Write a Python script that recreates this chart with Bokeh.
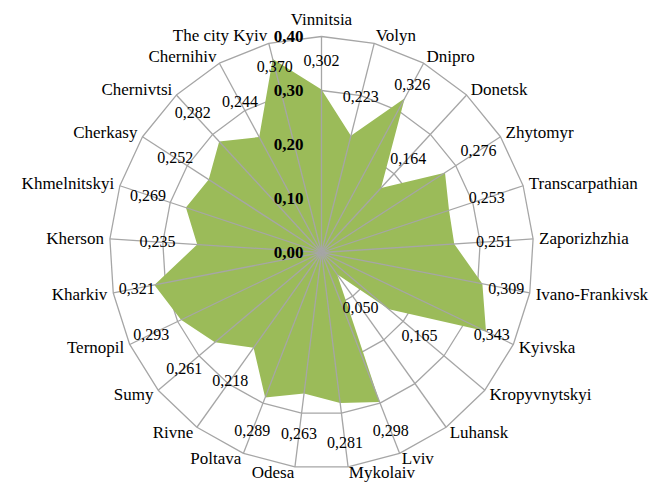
import numpy as np
from bokeh.plotting import figure
from bokeh.models import ColumnDataSource, Range1d
from bokeh.core.properties import value, field
from bokeh.embed import file_html
from bokeh.resources import INLINE

# ---- data ----
categories = ["Vinnitsia", "Volyn", "Dnipro", "Donetsk", "Zhytomyr", "Transcarpathian",
              "Zaporizhzhia", "Ivano-Frankivsk", "Kyivska", "Kropyvnytskyi", "Luhansk",
              "Lviv", "Mykolaiv", "Odesa", "Poltava", "Rivne", "Sumy", "Ternopil",
              "Kharkiv", "Kherson", "Khmelnitskyi", "Cherkasy", "Chernivtsi",
              "Chernihiv", "The city Kyiv"]
values = [0.302, 0.223, 0.326, 0.164, 0.276, 0.253, 0.251, 0.309, 0.343, 0.165,
          0.050, 0.298, 0.281, 0.263, 0.289, 0.218, 0.261, 0.293, 0.321, 0.235,
          0.269, 0.252, 0.282, 0.244, 0.370]
ticks = [0.0, 0.1, 0.2, 0.3, 0.4]
tick_labels = ["0,00", "0,10", "0,20", "0,30", "0,40"]

# ---- layout ----
W, H = 653, 484
cx, cy = 321.0, 252.0          # centre in figure pixels (from top-left)
kx, ky = 530.0, 540.0          # pixels per unit
RMAX = ticks[-1]

p = figure(width=W, height=H, output_backend="svg", toolbar_location=None,
           x_axis_type=None, y_axis_type=None, min_border=0,
           x_range=Range1d(-cx / kx, (W - cx) / kx),
           y_range=Range1d(-(H - cy) / ky, cy / ky))
p.outline_line_color = None
p.background_fill_color = "white"
p.border_fill_color = "white"

n = len(categories)
theta = 2 * np.pi * np.arange(n) / n
s, c = np.sin(theta), np.cos(theta)

GRID = "#A6A6A6"

# rings
for t in ticks[1:]:
    xs = list(t * s) + [t * s[0]]
    ys = list(t * c) + [t * c[0]]
    p.line(xs, ys, line_color=GRID, line_width=1.3)

# data polygon
v = np.array(values)
p.patch(list(v * s), list(v * c), fill_color="#9BBB59", line_color=None)

# spokes
p.segment(x0=[0] * n, y0=[0] * n, x1=list(RMAX * s), y1=list(RMAX * c),
          line_color=GRID, line_width=1.3)

# category labels
align = ["left" if si > 0.05 else ("right" if si < -0.05 else "center") for si in s]
xoff = [6 * si for si in s]
yoff = [(-17 * ci) if abs(si) <= 0.05 else ((-8 * ci) if ci > 0 else (-6 * ci))
        for si, ci in zip(s, c)]
cat_src = ColumnDataSource(dict(x=list(RMAX * s), y=list(RMAX * c), t=categories,
                                align=align, xo=xoff, yo=yoff))
p.text(x="x", y="y", text="t", source=cat_src, text_align=field("align"),
       text_baseline="middle", x_offset=field("xo"), y_offset=field("yo"),
       text_font=value("Liberation Serif"), text_font_size="17px", text_color="black")

# data labels
lr = np.minimum(v + 0.075, 0.355)
lab_src = ColumnDataSource(dict(x=list(lr * s), y=list(lr * c),
                                t=[f"{x:.3f}".replace(".", ",") for x in values]))
p.text(x="x", y="y", text="t", source=lab_src, text_align="center",
       text_baseline="middle", text_font=value("Liberation Serif"),
       text_font_size="16px", text_color="black")

# radial tick labels
tk_src = ColumnDataSource(dict(x=[0] * len(ticks), y=ticks, t=tick_labels))
p.text(x="x", y="y", text="t", source=tk_src, text_align="right",
       text_baseline="middle", x_offset=-18, text_font=value("Liberation Serif"),
       text_font_style="bold", text_font_size="17px", text_color="black")

open("out.html", "w").write(file_html(p, INLINE))
